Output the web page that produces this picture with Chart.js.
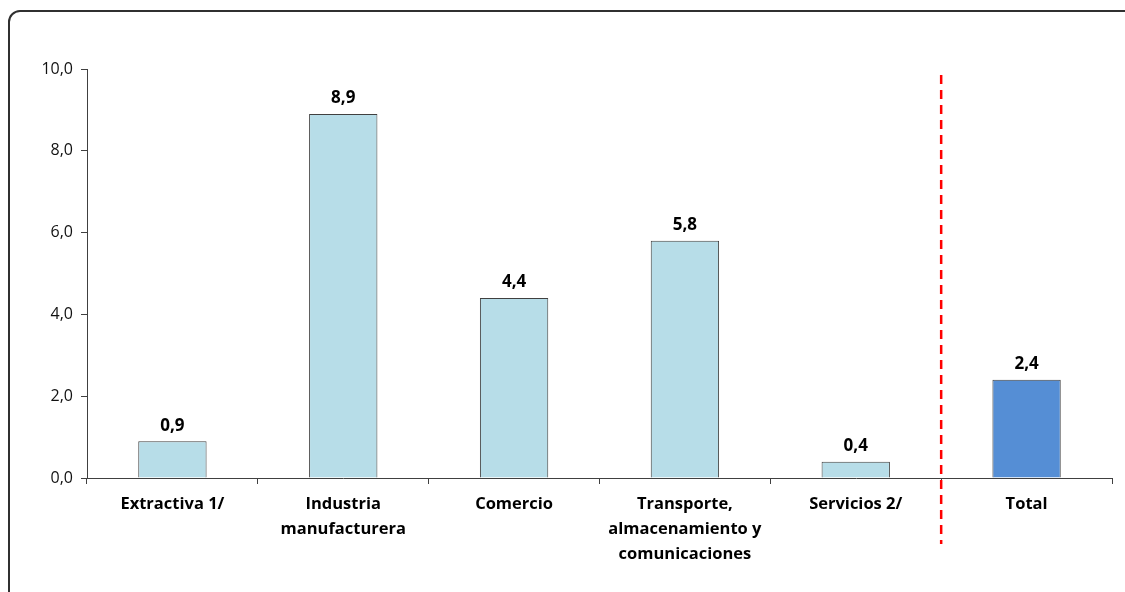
<!DOCTYPE html>
<html>
<head>
<meta charset="utf-8">
<script src="https://cdn.jsdelivr.net/npm/chart.js@4/dist/chart.umd.min.js"></script>
<style>
  body { margin: 0; background: #fff; overflow: hidden; }
  #frame {
    position: absolute; left: 8px; top: 10px; width: 1130px; height: 600px;
    border: 2px solid #303030; border-radius: 12px;
  }
  #wrap { position: absolute; left: 0; top: 0; width: 1125px; height: 592px; }
</style>
</head>
<body>
<div id="frame"></div>
<div id="wrap"><canvas id="chart"></canvas></div>
<script>
// bar chart by sector
const categories = [
  'Extractiva 1/',
  ['Industria', 'manufacturera'],
  'Comercio',
  ['Transporte,', 'almacenamiento y', 'comunicaciones'],
  'Servicios 2/',
  'Total'
];
const values = [0.9, 8.9, 4.4, 5.8, 0.4, 2.4];
const barColors = ['#b7dde8', '#b7dde8', '#b7dde8', '#b7dde8', '#b7dde8', '#558ed5'];
const yTicks = [0, 2, 4, 6, 8, 10];

const fmt = v => v.toFixed(1).replace('.', ',');

// value labels above bars
const valueLabels = {
  id: 'valueLabels',
  afterDatasetsDraw(chart) {
    const ctx = chart.ctx;
    const meta = chart.getDatasetMeta(0);
    ctx.save();
    ctx.font = 'bold 17px "Open Sans"';
    ctx.fillStyle = '#000';
    ctx.textAlign = 'center';
    ctx.textBaseline = 'bottom';
    meta.data.forEach((bar, i) => {
      ctx.fillText(fmt(values[i]), bar.x, bar.y - 7);
    });
    ctx.restore();
  }
};

// dashed red separator before Total
const separator = {
  id: 'separator',
  afterDatasetsDraw(chart) {
    const x = chart.scales.x;
    const xpos = (x.getPixelForValue(4) + x.getPixelForValue(5)) / 2;
    const ctx = chart.ctx;
    ctx.save();
    ctx.strokeStyle = '#ff0000';
    ctx.lineWidth = 2.5;
    ctx.setLineDash([9, 6]);
    ctx.beginPath();
    ctx.moveTo(xpos, chart.chartArea.top + 6);
    ctx.lineTo(xpos, chart.chartArea.bottom + 66);
    ctx.stroke();
    ctx.restore();
  }
};

new Chart(document.getElementById('chart'), {
  type: 'bar',
  data: {
    labels: categories,
    datasets: [{
      data: values,
      backgroundColor: barColors,
      borderColor: '#404040',
      borderWidth: 1,
      barPercentage: 0.4,
      categoryPercentage: 1
    }]
  },
  options: {
    responsive: true,
    maintainAspectRatio: false,
    animation: false,
    layout: { padding: { top: 69, right: 13, left: 0, bottom: 0 } },
    plugins: { legend: { display: false }, tooltip: { enabled: false } },
    scales: {
      x: {
        afterFit(scale) { scale.height = 114; },
        grid: { display: true, drawOnChartArea: false, offset: true, color: '#404040', tickLength: 6 },
        border: { color: '#404040', width: 1 },
        ticks: {
          color: '#000',
          font: { family: '"Open Sans"', size: 16.5, weight: 'bold', lineHeight: 1.5 },
          padding: 8,
          maxRotation: 0,
          autoSkip: false
        }
      },
      y: {
        min: 0, max: 10,
        afterFit(scale) { scale.width = 87; },
        afterBuildTicks(scale) { scale.ticks = yTicks.map(v => ({ value: v })); },
        grid: { display: true, drawOnChartArea: false, color: '#404040', tickLength: 6 },
        border: { color: '#404040', width: 1 },
        ticks: {
          color: '#111',
          font: { family: '"Open Sans"', size: 16 },
          padding: 8,
          callback: v => fmt(v)
        }
      }
    }
  },
  plugins: [valueLabels, separator]
});
</script>
</body>
</html>
